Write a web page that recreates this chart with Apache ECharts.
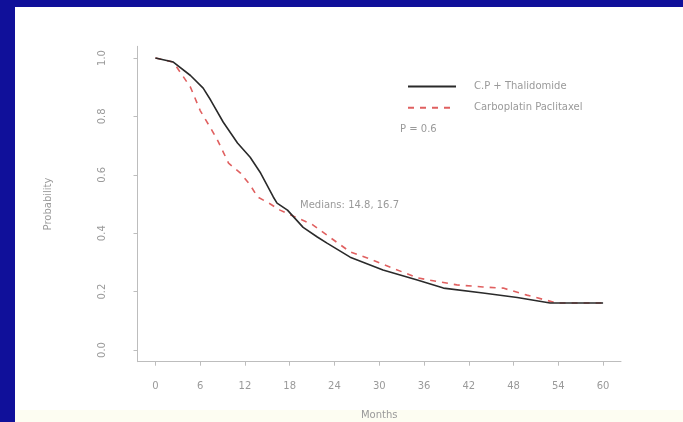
<!DOCTYPE html>
<html>
<head>
<meta charset="utf-8">
<script src="https://cdn.jsdelivr.net/npm/echarts@6/dist/echarts.min.js"></script>
<style>html,body{margin:0;padding:0;}#c{width:683px;height:422px;}</style>
</head>
<body>
<div id="c"></div>
<script>
const seriesNames = ['C.P + Thalidomide', 'Carboplatin Paclitaxel'];
const monthsCPT = [0, 2.4, 4.7, 6.4, 7.4, 9.1, 11.0, 12.7, 14.1, 15.8, 16.3, 17.7, 19.8, 21.7, 23.0, 26.1, 30.5, 35.1, 38.6, 43.9, 48.5, 52.9, 57.3, 60];
const probCPT   = [1.0, 0.986, 0.94, 0.897, 0.856, 0.78, 0.709, 0.66, 0.606, 0.524, 0.503, 0.479, 0.42, 0.387, 0.366, 0.318, 0.274, 0.24, 0.212, 0.195, 0.18, 0.161, 0.161, 0.161];
const monthsCP  = [0, 2.4, 4.7, 6.0, 7.4, 8.3, 9.8, 11.4, 12.7, 13.7, 15.4, 16.7, 21.0, 26.1, 28.4, 35.1, 40.4, 43.9, 46.6, 49.8, 53.8, 60];
const probCP    = [1.0, 0.986, 0.90, 0.82, 0.76, 0.72, 0.64, 0.606, 0.565, 0.524, 0.50, 0.479, 0.43, 0.336, 0.315, 0.247, 0.223, 0.216, 0.212, 0.188, 0.161, 0.161];
const xTicks = [0, 6, 12, 18, 24, 30, 36, 42, 48, 54, 60];
const yTicks = [0, 0.2, 0.4, 0.6, 0.8, 1.0];
const pText = 'P = 0.6';
const medianText = 'Medians: 14.8, 16.7';

const chart = echarts.init(document.getElementById('c'));
const txt = '#9a9a9a';
const axisCol = '#bdbdbd';
chart.setOption({
  animation: false,
  backgroundColor: '#10109a',
  textStyle: { fontFamily: 'DejaVu Sans' },
  graphic: [
    { type: 'rect', z: -10, shape: { x: 15, y: 7, width: 668, height: 415 }, style: { fill: '#ffffff' } },
    { type: 'rect', z: -9, shape: { x: 15, y: 410, width: 668, height: 12 }, style: { fill: '#fdfdf2' } },
    { type: 'text', left: 400, top: 124, style: { text: pText, fill: txt, fontSize: 10, fontFamily: 'DejaVu Sans' } },
    { type: 'text', left: 300, top: 200, style: { text: medianText, fill: txt, fontSize: 10, fontFamily: 'DejaVu Sans' } }
  ],
  legend: {
    orient: 'vertical', left: 402, top: 76, itemWidth: 48, itemHeight: 14, itemGap: 10,
    itemStyle: { opacity: 0 },
    textStyle: { color: txt, fontSize: 10, padding: [0, 0, 0, 13] },
    data: seriesNames
  },
  grid: { left: 137.5, right: 62, top: 46.3, bottom: 60.3, outerBoundsMode: 'none', containLabel: false },
  xAxis: {
    type: 'value', min: -2.4, max: 62.4,
    name: 'Months', nameLocation: 'middle', nameGap: 49,
    nameTextStyle: { color: txt, fontSize: 10 },
    axisLine: { show: true, onZero: false, lineStyle: { color: axisCol, width: 1 } },
    axisTick: { show: true, customValues: xTicks, length: 4, lineStyle: { color: axisCol } },
    axisLabel: { customValues: xTicks, color: txt, fontSize: 10, margin: 20 },
    splitLine: { show: false }
  },
  yAxis: {
    type: 'value', min: -0.04, max: 1.04,
    name: 'Probability', nameLocation: 'middle', nameGap: 84, nameRotate: 90,
    nameTextStyle: { color: txt, fontSize: 10 },
    axisLine: { show: true, onZero: false, lineStyle: { color: axisCol, width: 1 } },
    axisTick: { show: true, customValues: yTicks, length: 4, lineStyle: { color: axisCol } },
    axisLabel: { customValues: yTicks, color: txt, fontSize: 10, margin: 30, rotate: 90, formatter: v => v.toFixed(1) },
    splitLine: { show: false }
  },
  series: [
    {
      name: seriesNames[0], type: 'line', symbol: 'none',
      lineStyle: { color: '#2a2a2a', width: 1.6 }, itemStyle: { color: '#2a2a2a' },
      data: monthsCPT.map((m, i) => [m, probCPT[i]]), z: 3
    },
    {
      name: seriesNames[1], type: 'line', symbol: 'none',
      lineStyle: { color: '#e06060', width: 1.6, type: [6, 6] }, itemStyle: { color: '#e06060' },
      data: monthsCP.map((m, i) => [m, probCP[i]]), z: 2
    }
  ]
});
</script>
</body>
</html>
